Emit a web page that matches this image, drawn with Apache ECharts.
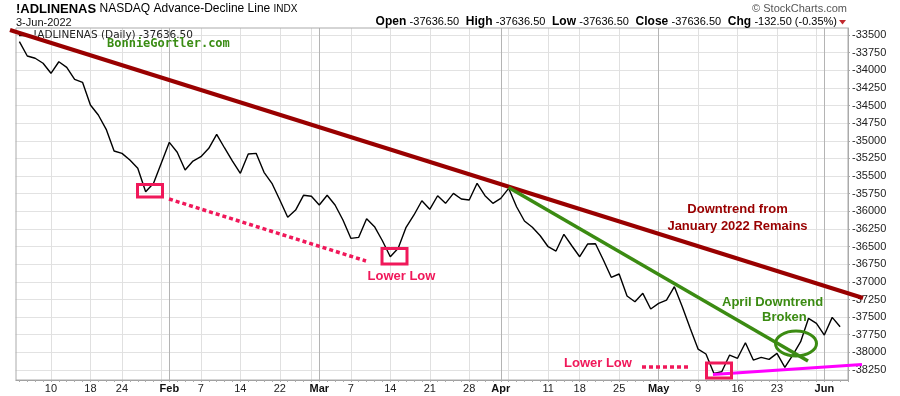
<!DOCTYPE html>
<html><head><meta charset="utf-8">
<script src="https://cdn.jsdelivr.net/npm/echarts@6/dist/echarts.min.js"></script>
<style>html,body{margin:0;padding:0;background:#fff}#c{width:900px;height:396px}</style>
</head><body><div id="c"></div>
<script>
// Trading days per month (2022); last one (Jun 6) is the empty right margin day
const janDays = [3,4,5,6,7,10,11,12,13,14,18,19,20,21,24,25,26,27,28,31];
const febDays = [1,2,3,4,7,8,9,10,11,14,15,16,17,18,22,23,24,25,28];
const marDays = [1,2,3,4,7,8,9,10,11,14,15,16,17,18,21,22,23,24,25,28,29,30,31];
const aprDays = [1,4,5,6,7,8,11,12,13,14,18,19,20,21,22,25,26,27,28,29];
const mayDays = [2,3,4,5,6,9,10,11,12,13,16,17,18,19,20,23,24,25,26,27,31];
const junDays = [1,2,3,6];

// NASDAQ A/D line closes, Jan 4 .. Jun 3
const adValues = [
 -33595,-33798,-33830,-33901,-34043,-33879,-33958,-34128,-34171,-34493,-34634,-34837,-35145,-35178,-35273,-35390,-35722,-35603,-35312,
 -35022,-35163,-35414,-35287,-35226,-35107,-34908,-35102,-35287,-35461,-35187,-35178,-35447,-35603,-35840,-36085,-35982,-35773,-35787,
 -35911,-35773,-35911,-36123,-36383,-36369,-36105,-36218,-36417,-36644,-36525,-36227,-36052,-35850,-35972,-35779,-35887,-35745,-35826,-35840,-35603,-35779,-35887,
 -35816,-35674,-35935,-36137,-36227,-36346,-36502,-36563,-36326,-36488,-36644,-36464,-36459,-36691,-36936,-36889,-37201,-37282,-37163,-37385,
 -37305,-37258,-37069,-37353,-37659,-37953,-38023,-38297,-38274,-38038,-38084,-37863,-38109,-38070,-38099,-38014,-38212,-38038,-37849,-37517,-37588,
 -37754,-37504,-37636.5
];

const tickDates = ["2022-01-10","2022-01-18","2022-01-24","2022-02-01","2022-02-07","2022-02-14","2022-02-22","2022-03-01","2022-03-07","2022-03-14","2022-03-21","2022-03-28","2022-04-01","2022-04-11","2022-04-18","2022-04-25","2022-05-02","2022-05-09","2022-05-16","2022-05-23","2022-06-01"];
const tickLabels = ["10","18","24","Feb","7","14","22","Mar","7","14","21","28","Apr","11","18","25","May","9","16","23","Jun"];
const monthLabels = ["Feb","Mar","Apr","May","Jun"];
const weekStarts = ["2022-01-10","2022-01-18","2022-01-24","2022-01-31","2022-02-07","2022-02-14","2022-02-22","2022-02-28","2022-03-07","2022-03-14","2022-03-21","2022-03-28","2022-04-04","2022-04-11","2022-04-18","2022-04-25","2022-05-02","2022-05-09","2022-05-16","2022-05-23","2022-05-31"];
const monthStarts = ["2022-02-01","2022-03-01","2022-04-01","2022-05-02","2022-06-01"];
const yTicks = [-38250,-38000,-37750,-37500,-37250,-37000,-36750,-36500,-36250,-36000,-35750,-35500,-35250,-35000,-34750,-34500,-34250,-34000,-33750,-33500];

const pad = n => (n < 10 ? '0' : '') + n;
const dates = [];
[[1,janDays],[2,febDays],[3,marDays],[4,aprDays],[5,mayDays],[6,junDays]].forEach(([m, days]) => {
  days.forEach(d => dates.push('2022-' + pad(m) + '-' + pad(d)));
});
const seriesData = [null].concat(adValues, [null]);

const FONT = '"Liberation Sans", Arial, sans-serif';
const PINK = '#f0185a';
const GREEN = '#3b8b12';
const DRED = '#990000';
const seriesName = '!ADLINENAS (Daily) -37636.50';

const chart = echarts.init(document.getElementById('c'), null, {renderer: 'canvas'});
chart.setOption({
  animation: false,
  backgroundColor: '#fff',
  grid: {left: 11.5, right: 52, top: 28, bottom: 16, outerBoundsMode: 'none', containLabel: false},
  legend: {
    data: [seriesName], left: 19, top: 30, padding: 0, icon: 'rect', itemWidth: 9, itemHeight: 1.5, itemGap: 5,
    selectedMode: false,
    textStyle: {fontSize: 10.5, fontFamily: '"DejaVu Sans", sans-serif', color: '#222'}
  },
  xAxis: [{
    type: 'category', data: dates, boundaryGap: false,
    axisLine: {show: true, lineStyle: {color: '#999'}},
    axisTick: {show: true, interval: 0, length: 2, lineStyle: {color: '#aaa'}},
    axisLabel: {
      interval: (i, v) => tickDates.indexOf(v) >= 0,
      formatter: v => {
        const t = tickLabels[tickDates.indexOf(v)];
        return monthLabels.indexOf(t) >= 0 ? '{m|' + t + '}' : t;
      },
      margin: 3, color: '#222', fontSize: 11, fontFamily: FONT,
      rich: {m: {fontWeight: 'bold', fontSize: 11, fontFamily: FONT, color: '#111'}}
    },
    splitLine: {show: true, interval: (i, v) => weekStarts.indexOf(v) >= 0, lineStyle: {color: '#e0e0e0', width: 1}}
  }, {
    type: 'category', data: dates, boundaryGap: false, position: 'bottom',
    axisLine: {show: false}, axisTick: {show: false}, axisLabel: {show: false},
    splitLine: {show: true, interval: (i, v) => monthStarts.indexOf(v) >= 0, lineStyle: {color: '#b4b4b4', width: 1}}
  }],
  yAxis: {
    type: 'value', position: 'right', min: -38391.8, max: -33400.7, scale: true,
    axisLine: {show: true, lineStyle: {color: '#aaa'}},
    axisTick: {show: true, customValues: yTicks, length: 2, lineStyle: {color: '#aaa'}},
    axisLabel: {customValues: yTicks, formatter: v => String(v), margin: 4, color: '#222', fontSize: 11, fontFamily: FONT},
    splitLine: {show: true, lineStyle: {color: '#e2e2e2', width: 1}}
  },
  series: [{
    name: seriesName, type: 'line', xAxisIndex: 0, data: seriesData, showSymbol: false, symbol: 'none',
    lineStyle: {color: '#000', width: 1.4}, itemStyle: {color: '#000'}, z: 5, connectNulls: false
  }],
  graphic: [
    {type: 'rect', silent: true, z: 10, shape: {x: 0, y: 28.5, width: 15.5, height: 358}, style: {fill: '#fff'}},
    {type: 'rect', silent: true, z: 11, shape: {x: 16, y: 28, width: 832, height: 352}, style: {fill: 'none', stroke: '#aaa', lineWidth: 1}},
    // header
    {type: 'text', z: 30, x: 16, y: 9, style: {text: '{a|!ADLINENAS} {b|NASDAQ Advance-Decline Line} {c|INDX}', verticalAlign: 'middle',
      rich: {a: {fontSize: 13, fontWeight: 'bold', fontFamily: FONT, fill: '#000'}, b: {fontSize: 12, fontFamily: FONT, fill: '#000'}, c: {fontSize: 10, fontFamily: FONT, fill: '#000'}}}},
    {type: 'text', z: 30, x: 16, y: 23, style: {text: '3-Jun-2022', fontSize: 11, fontFamily: FONT, fill: '#111', verticalAlign: 'middle'}},
    {type: 'text', z: 30, x: 847, y: 9, style: {text: '\u00A9 StockCharts.com', fontSize: 11, fontFamily: FONT, fill: '#555', align: 'right', verticalAlign: 'middle'}},
    {type: 'text', z: 30, x: 837, y: 22, style: {
      text: '{b|Open} {v|-37636.50}  {b|High} {v|-37636.50}  {b|Low} {v|-37636.50}  {b|Close} {v|-37636.50}  {b|Chg} {v|-132.50 (-0.35%)}',
      align: 'right', verticalAlign: 'middle',
      rich: {b: {fontSize: 12, fontWeight: 'bold', fontFamily: FONT, fill: '#000'}, v: {fontSize: 11, fontFamily: FONT, fill: '#000'}}}},
    {type: 'polygon', z: 30, shape: {points: [[839, 20], [846, 20], [842.5, 24.5]]}, style: {fill: '#c0282d'}},
    {type: 'text', z: 30, x: 107, y: 43.5, style: {text: 'BonnieGortler.com', fontSize: 12, fontWeight: 'bold', fontFamily: '"DejaVu Sans Mono", monospace', fill: '#3a8c14', verticalAlign: 'middle'}},
    // annotations
    {type: 'line', z: 20, silent: true, shape: {x1: 10, y1: 30, x2: 863, y2: 298}, style: {stroke: DRED, lineWidth: 4}},
    {type: 'line', z: 21, silent: true, shape: {x1: 508.6, y1: 187.5, x2: 808, y2: 361}, style: {stroke: GREEN, lineWidth: 3.5}},
    {type: 'line', z: 21, silent: true, shape: {x1: 713, y1: 374.5, x2: 862, y2: 364.5}, style: {stroke: '#ff00ff', lineWidth: 3}},
    {type: 'ellipse', z: 21, silent: true, shape: {cx: 796, cy: 343.5, rx: 20.5, ry: 12.5}, style: {fill: 'none', stroke: GREEN, lineWidth: 3}},
    {type: 'line', z: 21, silent: true, shape: {x1: 169, y1: 199, x2: 366, y2: 261}, style: {stroke: PINK, lineWidth: 3.5, lineDash: [4, 3]}},
    {type: 'line', z: 21, silent: true, shape: {x1: 642, y1: 367, x2: 688, y2: 367}, style: {stroke: PINK, lineWidth: 3.5, lineDash: [4, 3]}},
    {type: 'rect', z: 21, silent: true, shape: {x: 137.5, y: 184.5, width: 25, height: 12.5}, style: {fill: 'none', stroke: PINK, lineWidth: 3}},
    {type: 'rect', z: 21, silent: true, shape: {x: 382, y: 248.5, width: 25, height: 15.5}, style: {fill: 'none', stroke: PINK, lineWidth: 3}},
    {type: 'rect', z: 21, silent: true, shape: {x: 706.5, y: 363, width: 25, height: 15}, style: {fill: 'none', stroke: PINK, lineWidth: 3}},
    {type: 'text', z: 25, x: 367.5, y: 276, style: {text: 'Lower Low', fontSize: 13, fontWeight: 'bold', fontFamily: FONT, fill: PINK, verticalAlign: 'middle'}},
    {type: 'text', z: 25, x: 564, y: 363, style: {text: 'Lower Low', fontSize: 13, fontWeight: 'bold', fontFamily: FONT, fill: PINK, verticalAlign: 'middle'}},
    {type: 'text', z: 25, x: 737.5, y: 209, style: {text: 'Downtrend from', fontSize: 13, fontWeight: 'bold', fontFamily: FONT, fill: DRED, align: 'center', verticalAlign: 'middle'}},
    {type: 'text', z: 25, x: 737.5, y: 226, style: {text: 'January 2022 Remains', fontSize: 13, fontWeight: 'bold', fontFamily: FONT, fill: DRED, align: 'center', verticalAlign: 'middle'}},
    {type: 'text', z: 25, x: 722, y: 302, style: {text: 'April Downtrend', fontSize: 13, fontWeight: 'bold', fontFamily: FONT, fill: GREEN, verticalAlign: 'middle'}},
    {type: 'text', z: 25, x: 762, y: 317, style: {text: 'Broken', fontSize: 13, fontWeight: 'bold', fontFamily: FONT, fill: GREEN, verticalAlign: 'middle'}}
  ]
});
</script></body></html>
